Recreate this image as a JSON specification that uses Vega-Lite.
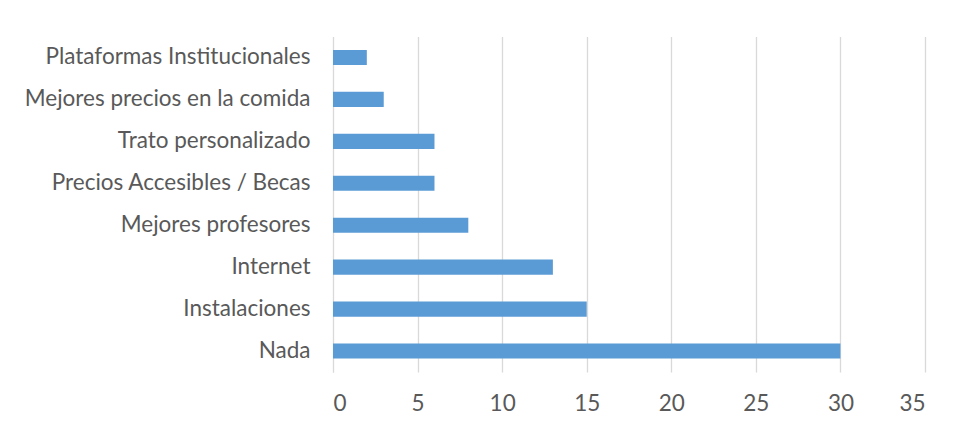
{
  "$schema": "https://vega.github.io/schema/vega-lite/v6.json",
  "autosize": {"type": "none"},
  "width": 592,
  "height": 335.5,
  "padding": {"left": 333, "top": 36.5, "right": 30, "bottom": 57},
  "background": "white",
  "data": {"values": [
    {"categoria": "Plataformas Institucionales", "valor": 2},
    {"categoria": "Mejores precios en la comida", "valor": 3},
    {"categoria": "Trato personalizado", "valor": 6},
    {"categoria": "Precios Accesibles / Becas", "valor": 6},
    {"categoria": "Mejores profesores", "valor": 8},
    {"categoria": "Internet", "valor": 13},
    {"categoria": "Instalaciones", "valor": 15},
    {"categoria": "Nada", "valor": 30}
  ]},
  "mark": {"type": "bar", "color": "#5B9BD5"},
  "encoding": {
    "y": {
      "field": "categoria", "type": "nominal", "sort": null, "title": null,
      "scale": {"paddingInner": 0.64, "paddingOuter": 0.32},
      "axis": {"ticks": false, "domainColor": "#d9d9d9", "domainWidth": 1, "labelPadding": 23,
               "labelFont": "Lato", "labelFontSize": 22.5, "labelColor": "#595959", "labelLimit": 400}
    },
    "x": {
      "field": "valor", "type": "quantitative", "title": null,
      "scale": {"domain": [0, 35], "nice": false},
      "axis": {"values": [0, 5, 10, 15, 20, 25, 30, 35], "ticks": false, "domain": false,
               "grid": true, "gridColor": "#d9d9d9", "gridWidth": 1.3, "labelPadding": 20,
               "labelFont": "Lato", "labelFontSize": 22.5, "labelColor": "#595959"}
    }
  },
  "config": {"view": {"stroke": null}}
}
